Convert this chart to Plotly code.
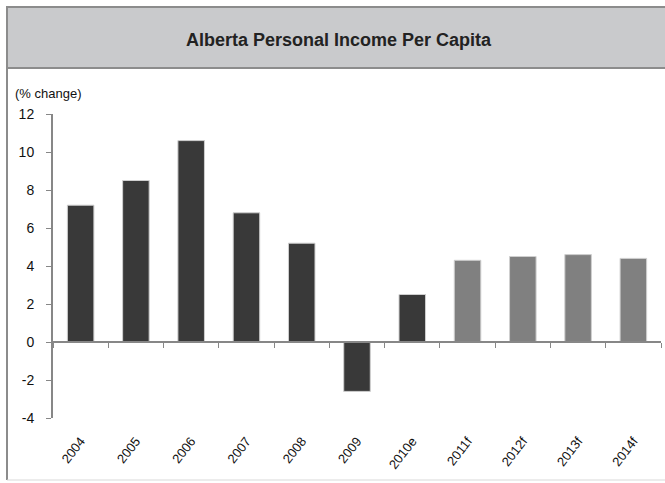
import plotly.graph_objects as go

years = ["2004", "2005", "2006", "2007", "2008", "2009", "2010e",
         "2011f", "2012f", "2013f", "2014f"]
pct_change = [7.2, 8.5, 10.6, 6.8, 5.2, -2.6, 2.5, 4.3, 4.5, 4.6, 4.4]
y_ticks = [-4, -2, 0, 2, 4, 6, 8, 10, 12]

# actual years dark, forecasts lighter grey
bar_colors = ["#808080" if y.endswith("f") else "#393939" for y in years]

W, H = 665, 483
L, R, T, B = 53, 4, 114, 65
pw, ph = W - L - R, H - T - B


def px_x(x):
    return (x - L) / pw


def px_y(y):
    return (H - B - y) / ph


fig = go.Figure()

fig.add_trace(go.Bar(
    x=years,
    y=pct_change,
    marker=dict(color=bar_colors, line=dict(color="#cfcfcf", width=1)),
    hoverinfo="x+y",
))

# invisible copy so the zero-line axis (ticks between categories) is drawn
fig.add_trace(go.Bar(
    x=years, y=pct_change, xaxis="x2", opacity=0,
    hoverinfo="skip", showlegend=False,
))

font = "Liberation Sans, Arial, sans-serif"
x_range = [-0.5, len(years) - 0.5]

fig.update_layout(
    width=W, height=H,
    margin=dict(l=L, r=R, t=T, b=B),
    paper_bgcolor="white",
    plot_bgcolor="white",
    showlegend=False,
    bargap=0.52,
    barmode="overlay",
    font=dict(family=font, size=12, color="#111111"),
    xaxis=dict(
        type="category",
        range=x_range,
        showline=False,
        ticks="",
        tickangle=-52,
        ticklabelstandoff=12,
        tickfont=dict(size=13, color="#111111"),
        showgrid=False,
        zeroline=False,
        automargin=False,
    ),
    xaxis2=dict(
        type="category",
        overlaying="x",
        matches="x",
        anchor="free",
        position=(0 - y_ticks[0]) / (y_ticks[-1] - y_ticks[0]),
        showline=True,
        linecolor="#878787",
        linewidth=2,
        ticks="outside",
        tickson="boundaries",
        ticklen=5,
        tickcolor="#878787",
        tickwidth=1,
        showticklabels=False,
        showgrid=False,
        zeroline=False,
        automargin=False,
    ),
    yaxis=dict(
        range=[y_ticks[0], y_ticks[-1]],
        tickvals=y_ticks,
        ticktext=[str(v) for v in y_ticks],
        showline=True,
        linecolor="#878787",
        linewidth=2,
        ticks="outside",
        ticklen=5,
        tickcolor="#878787",
        ticklabelstandoff=9,
        tickfont=dict(size=14, color="#111111"),
        showgrid=False,
        zeroline=False,
        automargin=False,
    ),
    shapes=[
        # title band
        dict(type="rect", xref="paper", yref="paper",
             x0=px_x(7), x1=px_x(668), y0=px_y(68), y1=px_y(7),
             fillcolor="#c9cacc", line=dict(color="#8c8c8c", width=2),
             layer="below"),
        # left frame
        dict(type="line", xref="paper", yref="paper",
             x0=px_x(7), x1=px_x(7), y0=px_y(7), y1=px_y(480),
             line=dict(color="#8c8c8c", width=2)),
        # bottom frame
        dict(type="line", xref="paper", yref="paper",
             x0=px_x(7), x1=px_x(668), y0=px_y(480), y1=px_y(480),
             line=dict(color="#d9d9d9", width=1)),
    ],
    annotations=[
        dict(text="<b>Alberta Personal Income Per Capita</b>",
             xref="paper", yref="paper", x=px_x(339), y=px_y(40),
             xanchor="center", yanchor="middle", showarrow=False,
             font=dict(size=18, color="#222222", family=font)),
        dict(text="(% change)",
             xref="paper", yref="paper", x=px_x(13), y=px_y(93),
             xanchor="left", yanchor="middle", showarrow=False,
             font=dict(size=13, color="#111111", family=font)),
    ],
)

# drop the browser's default body margin so the chart sits at the page corner
fig.write_html("out.html", config={"displayModeBar": False},
               post_script="document.body.style.margin='0';")
